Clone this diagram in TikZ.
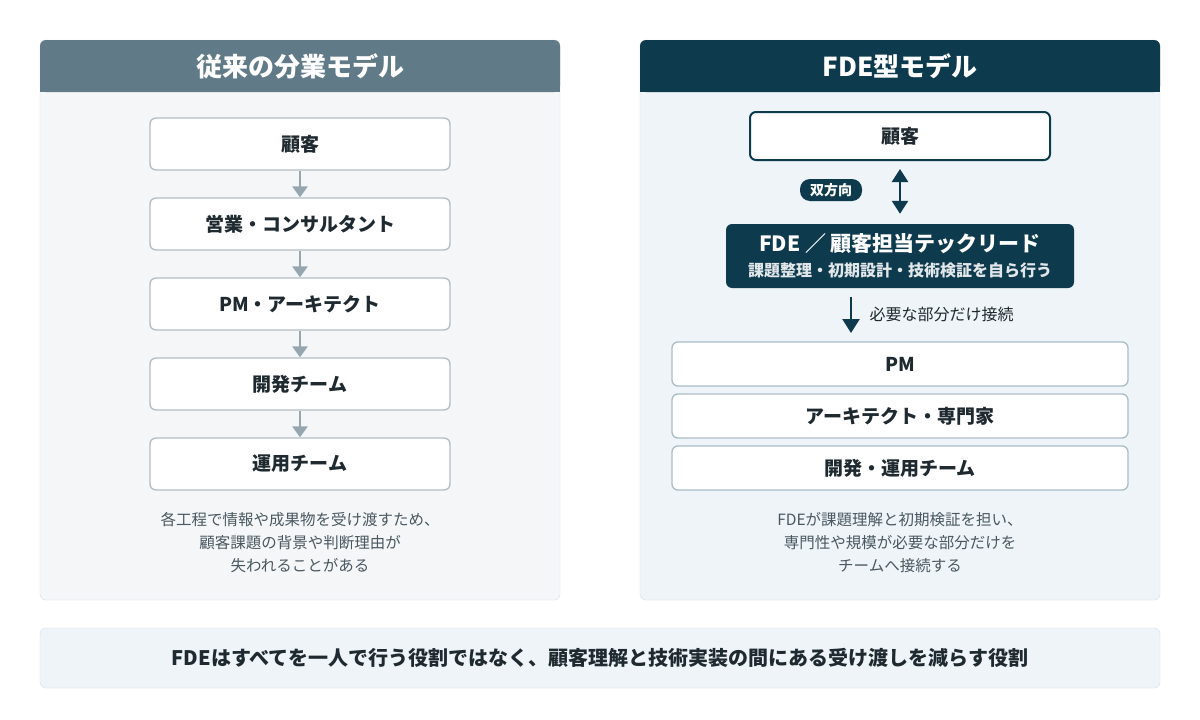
\documentclass[tikz,border=0pt]{standalone}
\usepackage{fontspec}
\setmainfont{Noto Sans CJK JP}
\usetikzlibrary{arrows.meta,positioning}
\definecolor{hdgray}{HTML}{607B87}
\definecolor{navy}{HTML}{0E3A4E}
\definecolor{panelL}{HTML}{F4F6F8}
\definecolor{panelR}{HTML}{EEF4F7}
\definecolor{rimgray}{HTML}{D6DEE3}
\definecolor{boxrim}{HTML}{B3BEC5}
\definecolor{boxrimR}{HTML}{A9BCC8}
\definecolor{arrgray}{HTML}{95A6AF}
\definecolor{txt}{HTML}{1F2A30}
\definecolor{subtxt}{HTML}{4A5860}
\tikzset{
  stage/.style={draw=boxrim,line width=1.3pt,fill=white,rounded corners=6pt,
    minimum width=300pt,minimum height=52pt,font=\bfseries\fontsize{19}{21}\selectfont,text=txt},
  part/.style={draw=boxrimR,line width=1.3pt,fill=white,rounded corners=6pt,
    minimum width=456pt,minimum height=44pt,font=\bfseries\fontsize{19}{21}\selectfont,text=txt},
  flow/.style={-{Triangle[length=11pt,width=15pt]},line width=2.5pt,arrgray},
  note/.style={align=center,font=\fontsize{15.5}{23}\selectfont,text=subtxt},
}
\begin{document}
\begin{tikzpicture}[x=1pt,y=-1pt]
  \useasboundingbox (0,0) rectangle (1200,720);
  \fill[white] (0,0) rectangle (1200,720);
  % left panel
  \draw[rimgray,fill=panelL,rounded corners=6pt] (40,40) rectangle (560,600);
  \fill[hdgray,rounded corners=6pt] (40,40) rectangle (560,92);
  \fill[hdgray] (40,80) rectangle (560,92);
  \node[text=white,font=\bfseries\fontsize{26}{28}\selectfont] (titleL) at (300,66) {従来の分業モデル};
  \node[stage] (cust) at (300,144) {顧客};
  \node[stage] (sales) at (300,224) {営業・コンサルタント};
  \node[stage] (pm) at (300,304) {PM・アーキテクト};
  \node[stage] (dev) at (300,384) {開発チーム};
  \node[stage] (ops) at (300,464) {運用チーム};
  \draw[flow] (cust) -- (sales);
  \draw[flow] (sales) -- (pm);
  \draw[flow] (pm) -- (dev);
  \draw[flow] (dev) -- (ops);
  \node[note] (noteL) at (300,543) {各工程で情報や成果物を受け渡すため、\\顧客課題の背景や判断理由が\\失われることがある};
  % right panel
  \draw[rimgray,fill=panelR,rounded corners=6pt] (640,40) rectangle (1160,600);
  \fill[navy,rounded corners=6pt] (640,40) rectangle (1160,92);
  \fill[navy] (640,80) rectangle (1160,92);
  \node[text=white,font=\bfseries\fontsize{26}{28}\selectfont] (titleR) at (900,66) {FDE型モデル};
  \node[stage,draw=navy,line width=2pt,minimum height=48pt] (custR) at (900,136) {顧客};
  \node[fill=navy,rounded corners=6pt,minimum width=348pt,minimum height=64pt] (fde) at (900,256) {};
  \node[text=white,font=\bfseries\fontsize{21}{23}\selectfont] (fdetitle) at (900,244) {FDE ／ 顧客担当テックリード};
  \node[text=white!88!navy,font=\bfseries\fontsize{16}{18}\selectfont] (fdesub) at (900,270) {課題整理・初期設計・技術検証を自ら行う};
  \draw[{Triangle[length=13pt,width=16pt]}-{Triangle[length=13pt,width=16pt]},line width=2.5pt,navy]
    ([yshift=-8pt]custR.south) -- ([yshift=10pt]fde.north);
  \node[fill=navy,rounded corners=10pt,text=white,inner sep=3pt,minimum width=62pt,minimum height=22pt,
    font=\bfseries\fontsize{14}{16}\selectfont] (bidir) at (831,190) {双方向};
  \node[part] (pmR) at (900,364) {PM};
  \node[part] (arch) at (900,416) {アーキテクト・専門家};
  \node[part] (devops) at (900,468) {開発・運用チーム};
  \coordinate (link) at (851,297);
  \draw[-{Triangle[length=14pt,width=17pt]},line width=2.5pt,navy] (link) -- (851,333);
  \node[anchor=west,text=txt,font=\fontsize{16}{18}\selectfont] (linktxt) at (866,314) {必要な部分だけ接続};
  \node[note] (noteR) at (900,543) {FDEが課題理解と初期検証を担い、\\専門性や規模が必要な部分だけを\\チームへ接続する};
  % bottom banner
  \draw[rimgray,fill=panelR,rounded corners=6pt] (40,628) rectangle (1160,688);
  \node[text=txt,font=\bfseries\fontsize{20}{22}\selectfont] (summary) at (600,658)
    {FDEはすべてを一人で行う役割ではなく、顧客理解と技術実装の間にある受け渡しを減らす役割};
\end{tikzpicture}
\end{document}
